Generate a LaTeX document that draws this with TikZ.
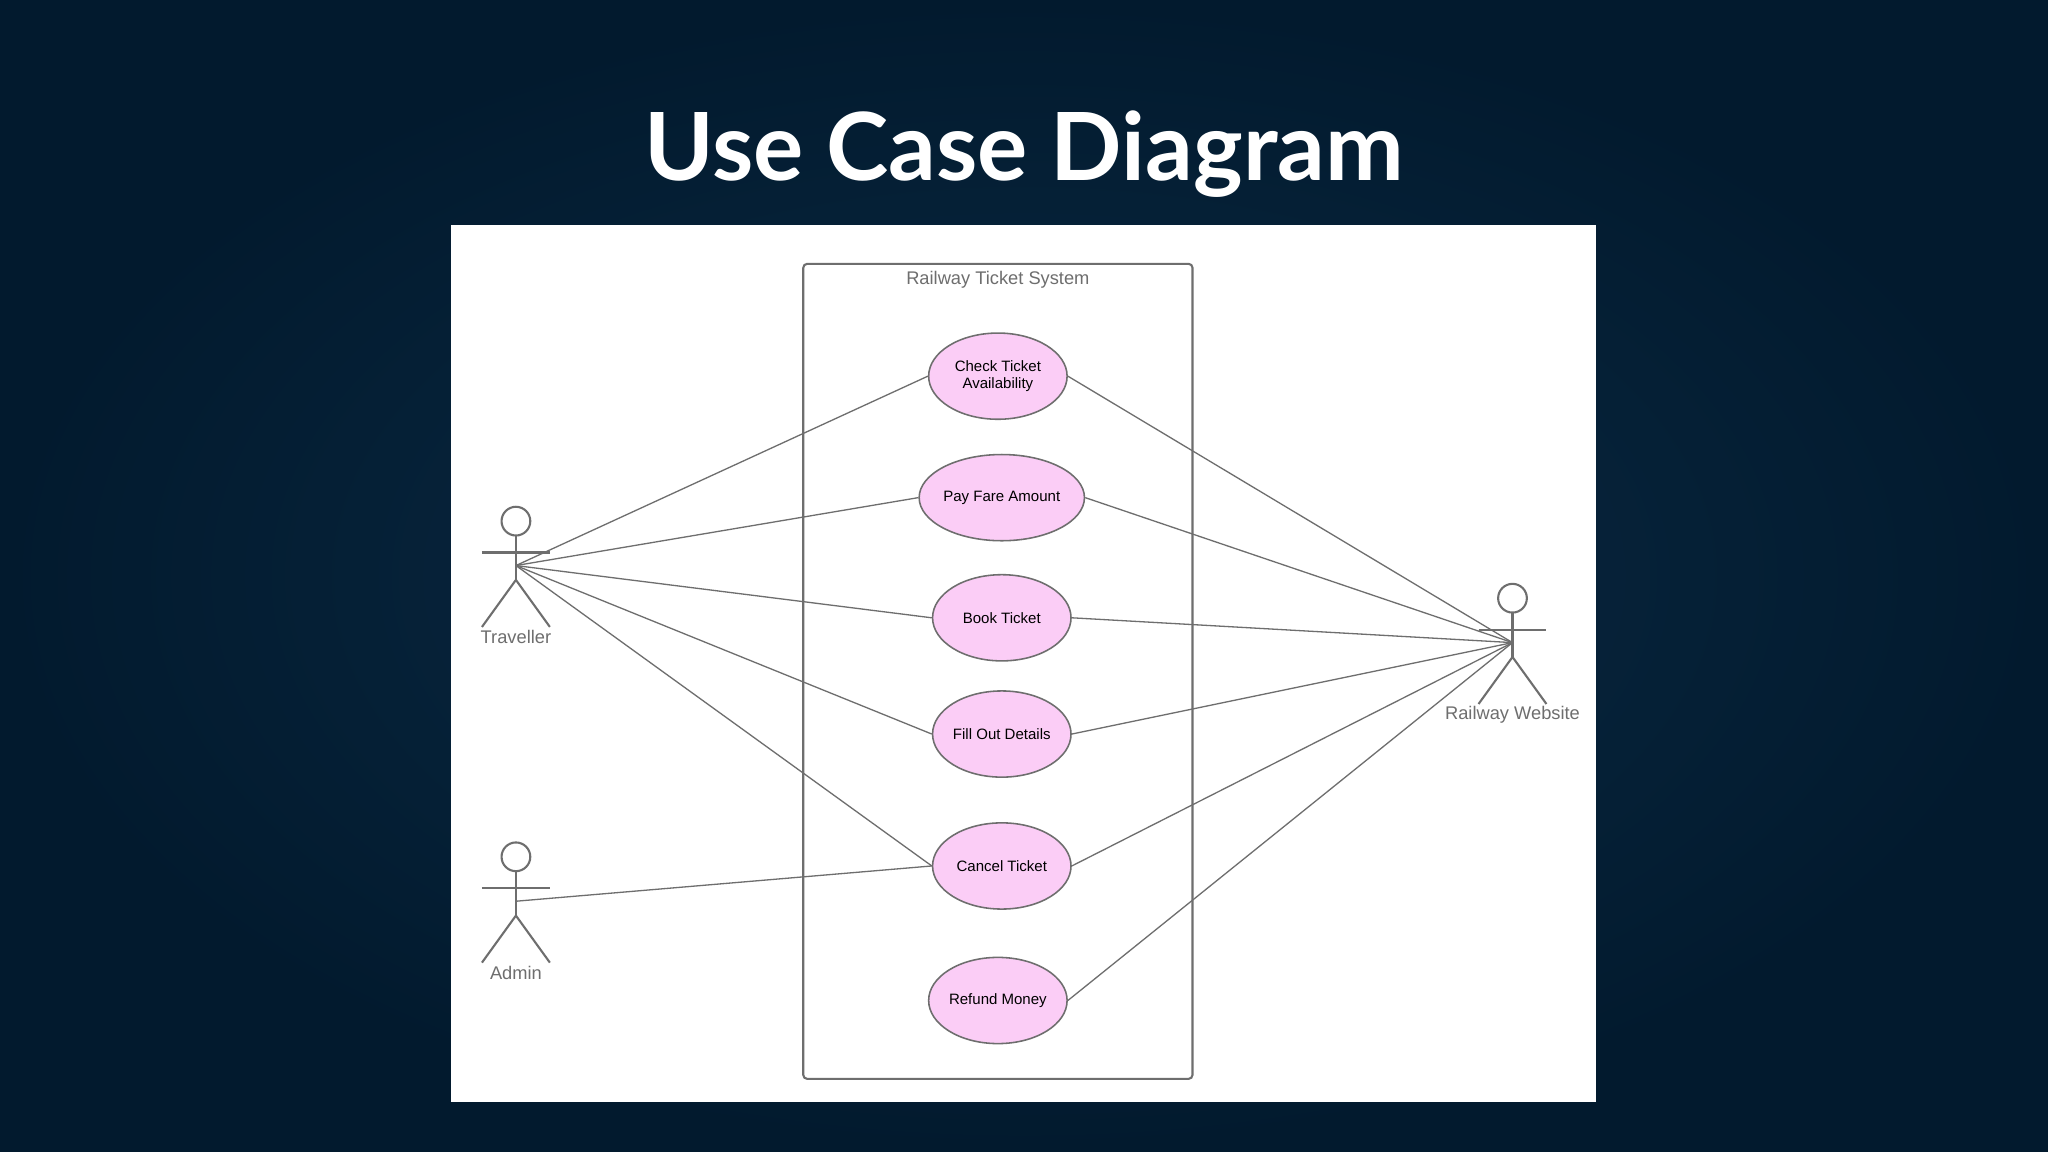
\documentclass[tikz,border=0pt]{standalone}
\usepackage{fontspec}
\setmainfont{Liberation Sans}
\newfontfamily\titlefont{Lato}
\usetikzlibrary{shapes.geometric}
\definecolor{bgmid}{HTML}{0B2B45}
\definecolor{bgedge}{HTML}{021A2E}
\definecolor{linegray}{HTML}{6E6E6E}
\definecolor{casepink}{HTML}{FBCDF6}
\tikzset{
  usecase/.style={ellipse,draw=linegray,fill=casepink,line width=1.2pt,
    minimum width=106pt,minimum height=66pt,inner sep=0pt,align=center,
    font=\fontsize{11.5}{13}\selectfont},
  assoc/.style={draw=linegray,line width=1pt},
  stick/.style={draw=linegray,line width=1.6pt},
}
% actor: name, x, y (of hip), label
\newcommand{\stickman}[4]{%
  \draw[stick] (#2,#3-45) circle (11);
  \draw[stick] (#2,#3-34) -- (#2,#3);
  \draw[stick] (#2-26,#3-21) -- (#2+26,#3-21);
  \draw[stick] (#2-26,#3+36) -- (#2,#3) -- (#2+26,#3+36);
  \coordinate (#1) at (#2,#3-11);
  \node[text=linegray,font=\fontsize{14}{16}\selectfont] (#1-label) at (#2,#3+44) {#4};
}
\begin{document}
\begin{tikzpicture}[x=1pt,y=-1pt]
  \useasboundingbox (0,0) rectangle (1568,882);
  \shade[inner color=bgmid,outer color=bgedge] (0,0) rectangle (1568,882);
  \node[text=white,font=\titlefont\bfseries\fontsize{72}{80}\selectfont] (title) at (784,118) {Use Case Diagram};
  \fill[white] (345,172) rectangle (1222,844);
  % system boundary
  \draw[linegray,line width=1.6pt,rounded corners=3pt] (615,202) rectangle (913,826);
  \node[text=linegray,font=\fontsize{14}{16}\selectfont] (sys) at (764,214) {Railway Ticket System};
  % use cases
  \node[usecase] (check) at (764,288) {Check Ticket\\Availability};
  \node[usecase] (pay) at (767,381) {Pay Fare Amount};
  \node[usecase] (book) at (767,473) {Book Ticket};
  \node[usecase] (fill) at (767,562) {Fill Out Details};
  \node[usecase] (cancel) at (767,663) {Cancel Ticket};
  \node[usecase] (refund) at (764,766) {Refund Money};
  % actors
  \stickman{traveller}{395}{444}{Traveller}
  \stickman{admin}{395}{701}{Admin}
  \stickman{website}{1158}{503}{Railway Website}
  % associations
  \foreach \uc in {check,pay,book,fill,cancel}
    \draw[assoc] (traveller) -- (\uc.west);
  \draw[assoc] (admin) -- (cancel.west);
  \foreach \uc in {check,pay,book,fill,cancel,refund}
    \draw[assoc] (website) -- (\uc.east);
\end{tikzpicture}
\end{document}
